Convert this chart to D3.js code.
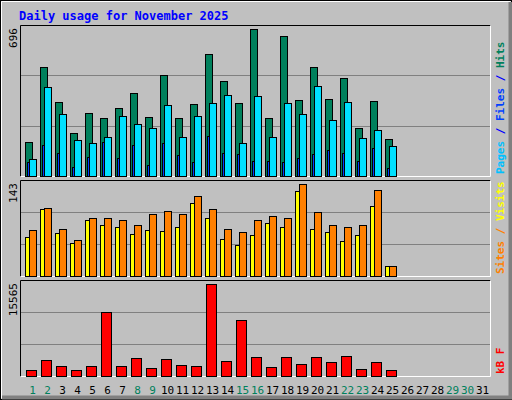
<!DOCTYPE html>
<html>
<head>
<script src="https://d3js.org/d3.v7.min.js"></script>
<style>
body { margin: 0; background: #fff; }
text { font-family: "DejaVu Sans Mono", monospace; }
</style>
</head>
<body>
<svg id="chart" width="512" height="400"></svg>
<script>
var days = d3.range(1, 32);
var weekend = [1, 2, 8, 9, 15, 16, 22, 23, 29, 30];
var hits  = [160,515,349,202,297,273,321,392,278,477,273,339,576,448,344,696,273,661,358,515,363,463,226,354,174];
var pages = [79,420,292,169,155,183,283,245,226,335,183,283,344,382,155,377,183,344,292,425,264,349,178,216,141];
var files = [65,145,107,41,89,160,84,145,51,155,98,65,188,107,103,70,70,65,84,103,122,107,70,131,36];
var sites  = [61,104,67,51,87,79,76,65,71,70,76,113,90,57,48,64,82,76,132,73,68,54,64,109,16];
var visits = [71,106,73,56,90,90,87,79,96,101,96,124,104,73,68,87,93,90,143,99,79,76,79,134,16];
var kbytes = [1079,2784,1761,1079,1761,10793,1761,3124,1420,2954,1931,1761,15565,2613,9430,3295,1591,3295,2102,3295,2443,3465,1250,2443,1079];

var svg = d3.select("#chart");
// outer frame
svg.append("rect").attr("x", 0.5).attr("y", 0.5).attr("width", 511).attr("height", 399).attr("fill", "#c0c0c0").attr("stroke", "#000");
svg.append("path").attr("d", "M1.5,398.5V1.5H510.5").attr("fill", "none").attr("stroke", "#fff");
svg.append("path").attr("d", "M2,397.5H510.5V2").attr("fill", "none").attr("stroke", "#808080").attr("stroke-width", 4);

svg.append("text").attr("x", 19).attr("y", 20).attr("fill", "#0000ff")
  .attr("font-size", 12).attr("font-weight", "bold").text("Daily usage for November 2025");

var x = d3.scaleBand().domain(days).range([25, 490]);

var panels = [
  {top: 25, bottom: 176, max: 696, label: [["Pages", "#00c0ff"], [" / ", "#0000ff"], ["Files", "#0040ff"], [" / ", "#0000ff"], ["Hits", "#00805c"]]},
  {top: 180, bottom: 276, max: 143, label: [["Sites", "#ff8000"], [" / ", "#ff8000"], ["Visits", "#ffff00"]]},
  {top: 280, bottom: 376, max: 15565, label: [["kB F", "#ff0000"]]}
];

panels.forEach(function(p) {
  var h = p.bottom - p.top;
  [1, 2].forEach(function(k) {
    var gy = Math.round(p.bottom - h * k / 3) + 0.5;
    svg.append("line").attr("x1", 21).attr("x2", 490).attr("y1", gy).attr("y2", gy).attr("stroke", "#808080");
  });
  svg.append("path").attr("d", "M20.5," + (p.bottom + 0.5) + "V" + (p.top + 0.5) + "H490.5").attr("fill", "none").attr("stroke", "#000");
  svg.append("path").attr("d", "M20.5," + (p.bottom + 0.5) + "H490.5V" + (p.top + 0.5)).attr("fill", "none").attr("stroke", "#fff");
  p.y = d3.scaleLinear().domain([0, p.max]).range([p.bottom, p.top + 4]);
  svg.append("text").attr("transform", "translate(17," + (p.top + 3) + ") rotate(-90)")
    .attr("text-anchor", "end").attr("font-size", 11).attr("fill", "#000").text(p.max);
  var t = svg.append("text").attr("transform", "translate(504," + (p.bottom - 2) + ") rotate(-90)")
    .attr("font-size", 11).attr("font-weight", "bold");
  p.label.forEach(function(s) { t.append("tspan").attr("fill", s[1]).text(s[0]); });
});

function bars(data, panel, dx, w, color) {
  svg.append("g").selectAll("rect").data(data).enter().append("rect")
    .attr("x", function(d, i) { return x(days[i]) + dx + 0.5; })
    .attr("y", function(d) { return Math.round(panel.y(d)) + 0.5; })
    .attr("width", w)
    .attr("height", function(d) { return panel.bottom - Math.round(panel.y(d)); })
    .attr("fill", color).attr("stroke", "#000");
}
bars(hits, panels[0], 0, 7, "#00805c");
bars(files, panels[0], 2, 3, "#0040ff");
bars(pages, panels[0], 4, 7, "#00e0ff");
bars(sites, panels[1], 0, 7, "#ffff00");
bars(visits, panels[1], 4, 7, "#ff8000");
bars(kbytes, panels[2], 1, 10, "#ff0000");

svg.append("g").selectAll("text").data(days).enter().append("text")
  .attr("x", function(d) { return x(d) + x.bandwidth() / 2; })
  .attr("y", 394).attr("text-anchor", "middle").attr("font-size", 11)
  .attr("font-family", "DejaVu Sans, sans-serif")
  .attr("fill", function(d) { return weekend.indexOf(d) >= 0 ? "#00805c" : "#000"; })
  .text(function(d) { return d; });
</script>
</body>
</html>
